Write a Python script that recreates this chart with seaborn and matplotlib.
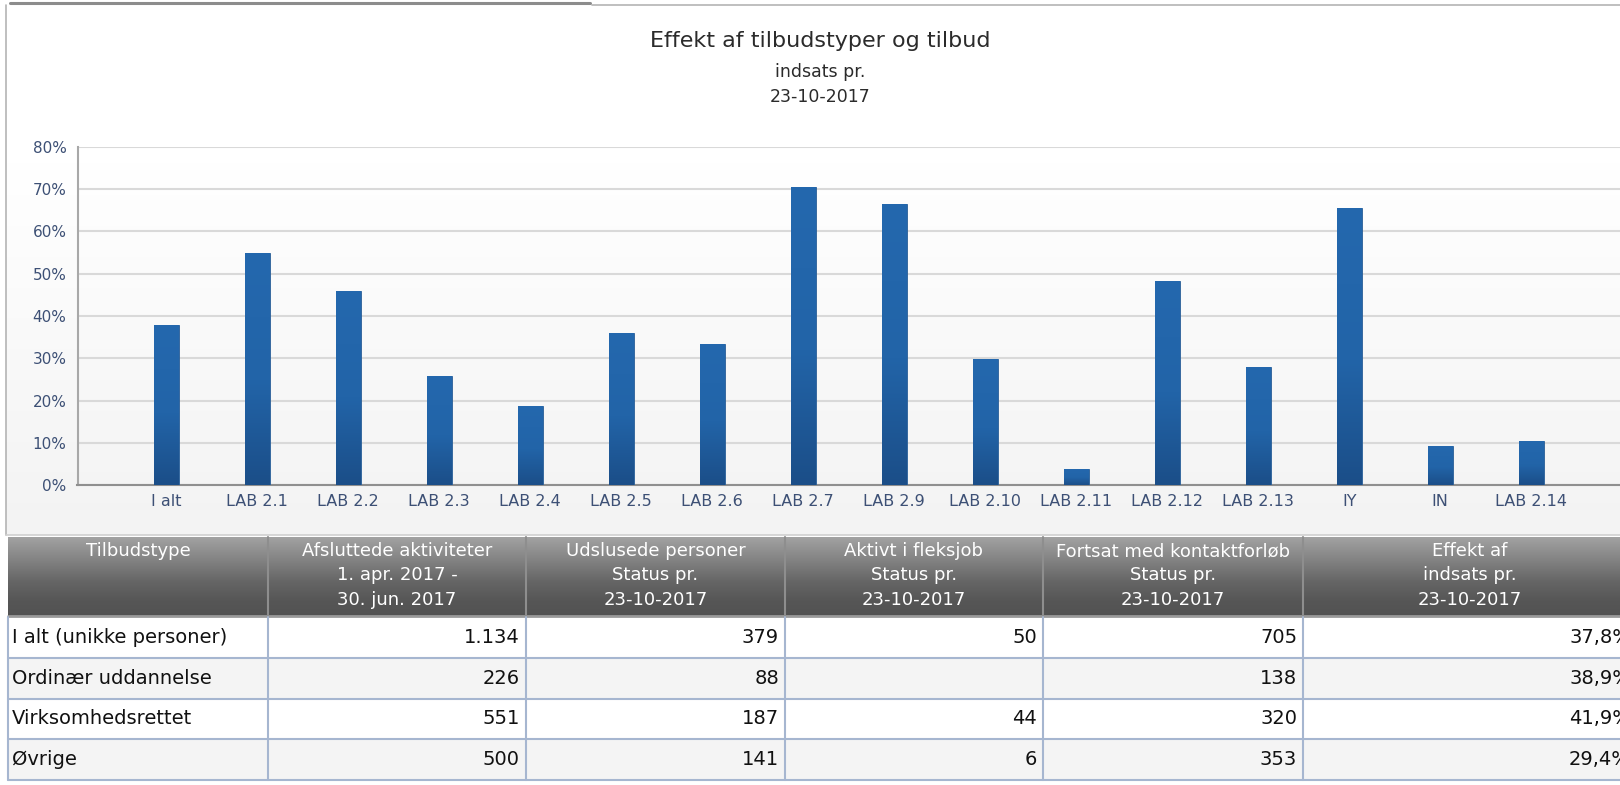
import matplotlib
matplotlib.use("Agg")
import matplotlib.pyplot as plt
import matplotlib.colors as mcolors
from matplotlib.ticker import PercentFormatter, MultipleLocator
import numpy as np
import pandas as pd
import seaborn as sns

# chart data (effect in percent)
categories = ["I alt", "LAB 2.1", "LAB 2.2", "LAB 2.3", "LAB 2.4", "LAB 2.5", "LAB 2.6",
              "LAB 2.7", "LAB 2.9", "LAB 2.10", "LAB 2.11", "LAB 2.12", "LAB 2.13",
              "IY", "IN", "LAB 2.14"]
effect = [37.8, 54.8, 46.0, 25.9, 18.7, 36.1, 33.3, 70.5, 66.5, 29.9, 3.8, 48.3, 27.9,
          65.5, 9.4, 10.5]

title_lines = ["Effekt af tilbudstyper og tilbud", "indsats pr.", "23-10-2017"]

# table data
header_labels = [
    "Tilbudstype",
    "Afsluttede aktiviteter\n1. apr. 2017 -\n30. jun. 2017",
    "Udslusede personer\nStatus pr.\n23-10-2017",
    "Aktivt i fleksjob\nStatus pr.\n23-10-2017",
    "Fortsat med kontaktforløb\nStatus pr.\n23-10-2017",
    "Effekt af\nindsats pr.\n23-10-2017",
]
row_labels = ["I alt (unikke personer)", "Ordinær uddannelse", "Virksomhedsrettet", "Øvrige"]
afsluttede = ["1.134", "226", "551", "500"]
udslusede = ["379", "88", "187", "141"]
fleksjob = ["50", "", "44", "6"]
kontakt = ["705", "138", "320", "353"]
effekt_type = ["37,8%", "38,9%", "41,9%", "29,4%"]

W, H = 1620, 785
sns.set_style("white")
plt.rcParams["font.family"] = ["DejaVu Sans"]

fig = plt.figure(figsize=(W / 100, H / 100), dpi=100)
fig.patch.set_facecolor("white")

# background layer in pixel coordinates
bg = fig.add_axes([0, 0, 1, 1], zorder=0)
bg.set_xlim(0, W)
bg.set_ylim(H, 0)
bg.axis("off")


def vgrad(ax, x0, x1, y0, y1, stops, **kw):
    cmap = mcolors.LinearSegmentedColormap.from_list("g", stops)
    grad = np.linspace(0, 1, 256).reshape(-1, 1)
    return ax.imshow(grad, cmap=cmap, extent=[x0, x1, y1, y0], aspect="auto",
                     interpolation="bilinear", **kw)


# chart panel with soft gradient and borders
vgrad(bg, 6, W, 5, 535, [(0, "#ffffff"), (0.3, "#ffffff"), (1, "#f3f3f3")], zorder=0)
bg.plot([6, 6], [5, 535], color="#b4b4b4", lw=1.2, zorder=1)
bg.plot([6, W], [535, 535], color="#d0d0d0", lw=1.2, zorder=1)
bg.plot([592, W], [5, 5], color="#b4b4b4", lw=1.2, zorder=1)
bg.plot([10, 590], [2.5, 2.5], color="#8c8c8c", lw=2.2, zorder=1)

# title block
fig.text(820 / W, 1 - 41 / H, title_lines[0], ha="center", va="center", fontsize=16, color="#2b2b2b")
fig.text(820 / W, 1 - 72 / H, title_lines[1], ha="center", va="center", fontsize=12.5, color="#2b2b2b")
fig.text(820 / W, 1 - 97 / H, title_lines[2], ha="center", va="center", fontsize=12.5, color="#2b2b2b")

# bar chart
df = pd.DataFrame({"tilbud": categories, "effekt": [v / 100 for v in effect]})
ax = fig.add_axes([77.5 / W, 1 - 485.3 / H, (1625 - 77.5) / W, (485.3 - 146.7) / H], zorder=2)
ax.patch.set_alpha(0)
sns.barplot(data=df, x="tilbud", y="effekt", color="#2265aa", width=0.27,
            edgecolor="#2a5f98", linewidth=0.6, saturation=1, ax=ax, zorder=3)

bar_cmap = mcolors.LinearSegmentedColormap.from_list(
    "bar", [(0, "#2468ae"), (0.55, "#2264a8"), (1, "#1b4e88")])
for p in ax.patches:
    x0, y0 = p.get_x(), p.get_y()
    w, h = p.get_width(), p.get_height()
    im = ax.imshow(np.linspace(0, 1, 256).reshape(-1, 1), cmap=bar_cmap,
                   extent=[x0, x0 + w, y0, y0 + h], origin="upper", aspect="auto",
                   interpolation="bilinear", zorder=3.5)
    im.set_clip_path(p)

ax.set_xlim(-0.976, 16.03)
ax.set_ylim(0, 0.8)
ax.yaxis.set_major_locator(MultipleLocator(0.1))
ax.yaxis.set_major_formatter(PercentFormatter(1.0, decimals=0))
ax.grid(axis="y", color="#d9d9d9", lw=1.5, zorder=1)
ax.grid(axis="x", visible=False)
ax.set_axisbelow(True)
ax.set_xlabel("")
ax.set_ylabel("")
for s in ["top", "right"]:
    ax.spines[s].set_visible(False)
ax.spines["left"].set_color("#a8a8a8")
ax.spines["left"].set_linewidth(1.5)
ax.spines["bottom"].set_color("#8f8f8f")
ax.spines["bottom"].set_linewidth(1.5)
ax.tick_params(axis="both", length=0, labelsize=11.5, labelcolor="#3d5075")
ax.tick_params(axis="y", pad=8, labelsize=11)
ax.tick_params(axis="x", pad=6)

# table below the chart
col_x = [8, 268, 526, 785, 1043, 1303, 1637]
head_top, head_bot = 537, 617
row_y = [617, 658, 699, 739, 780]

vgrad(bg, col_x[0], W, head_top, head_bot,
      [(0, "#a2a2a2"), (0.55, "#666666"), (0.8, "#565656"), (1, "#525252")], zorder=2)
bg.plot([col_x[0], W], [head_bot - 1, head_bot - 1], color="#9a9a9a", lw=2, zorder=3)
for cx in col_x[1:-1]:
    bg.plot([cx, cx], [head_top, head_bot], color="#8e8e8e", lw=1.5, zorder=3)
for i, lab in enumerate(header_labels):
    cx = (col_x[i] + col_x[i + 1]) / 2
    for j, line in enumerate(lab.split("\n")):
        bg.text(cx, 551 + 24.5 * j, line, ha="center", va="center", fontsize=13,
                color="white", zorder=4)

columns = [afsluttede, udslusede, fleksjob, kontakt, effekt_type]
for r, lab in enumerate(row_labels):
    top, bot = row_y[r], row_y[r + 1]
    face = "#ffffff" if r % 2 == 0 else "#f4f4f4"
    bg.fill_between([col_x[0], W], top, bot, color=face, lw=0, zorder=2)
    bg.text(col_x[0] + 4, (top + bot) / 2, lab, ha="left", va="center", fontsize=14,
            color="#111111", zorder=4)
    for c, vals in enumerate(columns):
        bg.text(col_x[c + 2] - 6, (top + bot) / 2, vals[r], ha="right", va="center",
                fontsize=14, color="#111111", zorder=4)
    bg.plot([col_x[0], W], [bot, bot], color="#a6b6d0", lw=1.5, zorder=3)
for cx in col_x[:-1]:
    bg.plot([cx, cx], [head_bot, row_y[-1]], color="#a6b6d0", lw=1.5, zorder=3)

fig.savefig("out.png", dpi=100)
